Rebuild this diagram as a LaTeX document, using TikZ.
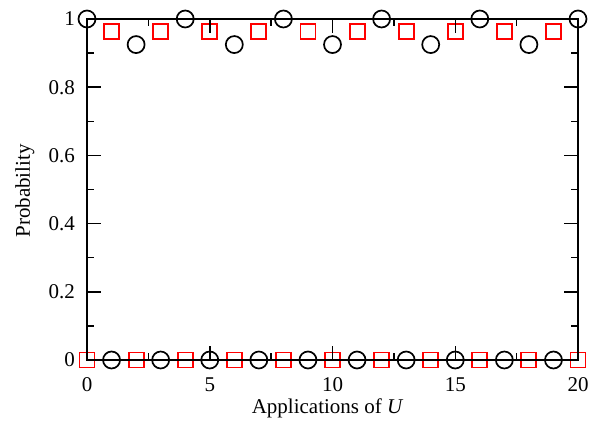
\documentclass[tikz,border=0pt]{standalone}
\usepackage{fontspec}
\setmainfont{Liberation Serif}
\begin{document}
\begin{tikzpicture}[x=24.55pt, y=341pt, font=\fontsize{21}{24}\selectfont,
  circmark/.style={black, line width=1.7pt},
  sqmark/.style={red, line width=1.9pt},
  tick/.style={line width=1.5pt}]
\useasboundingbox (-3.544,-0.1818) rectangle (20.692,1.0557);

% circles
\foreach \n in {0,4,...,20} \draw[circmark] (\n,1) circle[radius=8.5pt];
\foreach \n in {2,6,...,18} \draw[circmark] (\n,0.925) circle[radius=8.5pt];
\foreach \n in {1,3,...,19} \draw[circmark] (\n,0) circle[radius=8.5pt];

% squares
\foreach \n in {1,3,...,19} \draw[sqmark] (\n,0.962) ++(-7.5pt,-7.5pt) rectangle ++(15pt,15pt);
\foreach \n in {0,2,...,20} \draw[sqmark] (\n,0) ++(-7.5pt,-7.5pt) rectangle ++(15pt,15pt);

% frame and ticks
\draw[line width=2pt] (0,0) rectangle (20,1);
\foreach \x in {5,10,15} {
  \draw[tick] (\x,0) -- ++(0,14pt);
  \draw[tick] (\x,1) -- ++(0,-14pt);
}
\foreach \x in {2.5,7.5,12.5,17.5} {
  \draw[tick] (\x,0) -- ++(0,7pt);
  \draw[tick] (\x,1) -- ++(0,-7pt);
}
\foreach \y in {0.2,0.4,0.6,0.8} {
  \draw[tick] (0,\y) -- ++(14pt,0);
  \draw[tick] (20,\y) -- ++(-14pt,0);
}
\foreach \y in {0.1,0.3,0.5,0.7,0.9} {
  \draw[tick] (0,\y) -- ++(7pt,0);
  \draw[tick] (20,\y) -- ++(-7pt,0);
}

% tick labels
\foreach \x in {0,5,10,15,20} \node (xt\x) at (\x,-0.073) {\x};
\foreach \y in {0,0.2,0.4,0.6,0.8,1} \node[anchor=east] (yt\y) at (-0.35,\y) {\y};

% axis labels
\node (xlabel) at (9.8,-0.141) {Applications of \textit{U}};
\node[rotate=90] (ylabel) at (-2.53,0.496) {Probability};
\end{tikzpicture}
\end{document}
